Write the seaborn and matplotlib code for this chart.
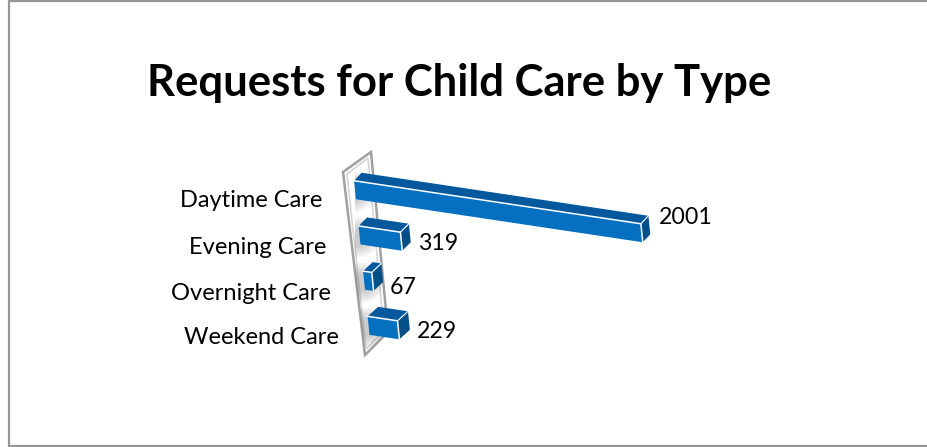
# -*- coding: utf-8 -*-
"""
Requests for child care by type, slanted 3D style bar chart.
"""

import numpy as np
import pandas as pd
import matplotlib
matplotlib.use("Agg")
import matplotlib.pyplot as plt
import seaborn as sns
from matplotlib.lines import Line2D
from matplotlib.patches import Ellipse, Polygon
from matplotlib.transforms import Affine2D, IdentityTransform

care_types = ['Daytime Care', 'Evening Care', 'Overnight Care', 'Weekend Care']
requests = [2001, 319, 67, 229]
title = 'Requests for Child Care by Type'

W, H = 927, 447

# =============================================================================
# Look
# =============================================================================
FRONT = '#0570c0'
TOP = '#05589c'
SIDE = '#034f88'
RIM = '#a0a0a0'

sns.set_theme(style='white')
plt.rcParams['font.family'] = ['Lato', 'DejaVu Sans']
plt.rcParams['text.color'] = 'black'

# pixel coords of the picture (y down) to display coords
pix = Affine2D().scale(1, -1).translate(0, H)

fig = plt.figure(figsize=(W / 100, H / 100), dpi=100)

# axes box: v=0 at x0, rows centred around y0
x0, y0_pix, row_gap = 355, 190, 45.2
ax_top = y0_pix - row_gap / 2
ax_bot = ax_top + 4 * row_gap


## Foreshortening along the bars, in pixels
def forward(v):
    v = np.asarray(v, dtype=float)
    return 0.129 * v / (1 - v / 20000)


def inverse(p):
    p = np.asarray(p, dtype=float)
    return p / (0.129 + p / 20000)


ax_w = float(forward(max(requests)))
ax = fig.add_axes([x0 / W, (H - ax_bot) / H, ax_w / W, (ax_bot - ax_top) / H])

df = pd.DataFrame({'type': care_types, 'requests': requests})
sns.barplot(data=df, x='requests', y='type', color=FRONT, saturation=1,
            width=0.41, ax=ax)
ax.set_xscale('function', functions=(forward, inverse))
ax.set_xlim(0, max(requests))
ax.set_ylim(3.5, -0.5)
ax.set_axis_off()

# =============================================================================
# Shear the whole plot plane, so the bars run downhill along a leaning wall
# =============================================================================
k, m = 0.15, 0.1
y0 = H - y0_pix
shear = Affine2D(np.array([[1, -m, m * y0], [-k, 1, k * x0], [0, 0, 1]]))
plane = ax.transData + shear

# =============================================================================
# Wall
# =============================================================================
wall = [(343, 172), (371, 152), (388, 332), (365, 355)]
wall_in = [(347, 174), (368, 158), (384, 331), (366, 349)]
wall_patch = Polygon(wall, closed=True, transform=pix, facecolor='white',
                     edgecolor=RIM, lw=1.8, zorder=0.5, clip_on=False)
ax.add_patch(wall_patch)
ax.add_patch(Polygon(wall_in, closed=True, transform=pix, facecolor='none',
                     edgecolor='#d4d4d4', lw=1.2, zorder=0.6, clip_on=False))

## Soft shadows behind the bar ends
for bar in list(ax.containers[0]):
    cy = bar.get_y() + bar.get_height() / 2
    cx_pix, cy_pix = pix.inverted().transform(plane.transform((0, cy)))
    for grow in np.linspace(1, 0.45, 6):
        e = Ellipse((cx_pix - 1, cy_pix + 2), 42 * grow, 40 * grow, transform=pix,
                    facecolor='#808080', edgecolor='none', alpha=0.08, zorder=0.7)
        ax.add_patch(e)
        e.set_clip_path(wall_patch)

# =============================================================================
# Bars, with the top and side faces built from each front face
# =============================================================================
for row, bar in enumerate(ax.containers[0]):
    bar.set_transform(plane)
    bar.set_clip_on(False)
    bar.set_edgecolor('none')
    bar.set_zorder(3)

    x, y = bar.get_x(), bar.get_y()
    w, h = bar.get_width(), bar.get_height()
    tl, tr, br = plane.transform([(x, y), (x + w, y), (x + w, y + h)])
    depth = np.array([7.5 + row, 8 + 0.5 * row])

    ax.add_patch(Polygon([tl, tr, tr + depth, tl + depth], closed=True,
                         transform=IdentityTransform(), facecolor=TOP,
                         edgecolor='none', zorder=2, clip_on=False))
    ax.add_patch(Polygon([tr, br, br + depth, tr + depth], closed=True,
                         transform=IdentityTransform(), facecolor=SIDE,
                         edgecolor='none', zorder=2, clip_on=False))

    ## White seam between the faces
    ax.add_line(Line2D([tl[0], tr[0], br[0]], [tl[1], tr[1], br[1]],
                       transform=IdentityTransform(), color='white', lw=1.1,
                       zorder=4, clip_on=False))
    ax.add_line(Line2D([tr[0], tr[0] + depth[0]], [tr[1], tr[1] + depth[1]],
                       transform=IdentityTransform(), color='white', lw=0.8,
                       zorder=4, clip_on=False))

# =============================================================================
# Text
# =============================================================================
name_nudge = [(-33, -17), (-33, -19), (-33, -20), (-30, -18)]
label_nudge = [(17, 9), (17, -9), (17, -12), (18, -8)]

for row, (name, value) in enumerate(zip(care_types, requests)):
    ax.annotate(name, xy=(0, row), xycoords=plane, xytext=name_nudge[row],
                textcoords='offset pixels', ha='right', va='baseline',
                fontsize=17, color='black', annotation_clip=False)
    ax.annotate(str(value), xy=(value, row), xycoords=plane,
                xytext=label_nudge[row], textcoords='offset pixels',
                ha='left', va='baseline', fontsize=16.7, color='black',
                annotation_clip=False)

fig.text(459.5 / W, 1 - 83 / H, title, ha='center', va='center',
         fontsize=31.4, fontweight='bold', color='black')

# =============================================================================
# Chart frame, open at the right
# =============================================================================
fig.add_artist(Line2D([9, 9, W], [1, 445.5, 445.5], transform=pix, color='#969696',
                      lw=1.6, solid_joinstyle='miter'))
fig.add_artist(Line2D([9, W], [1, 1], transform=pix, color='#969696', lw=1.6))

fig.savefig('out.png', dpi=100, facecolor='white')
